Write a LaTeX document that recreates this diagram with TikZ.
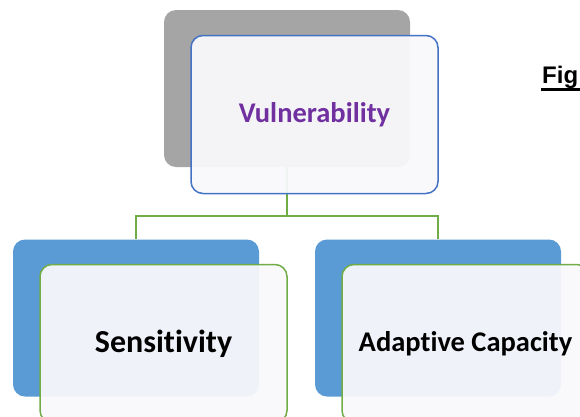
\documentclass[tikz,border=0pt]{standalone}
\usepackage{fontspec}
\setmainfont{Carlito}[Ligatures=NoCommon]
\newfontfamily\figfont{Liberation Sans}
\definecolor{backgray}{RGB}{165,165,165}
\definecolor{backblue}{RGB}{91,155,213}
\definecolor{edgeblue}{RGB}{68,114,196}
\definecolor{edgegreen}{RGB}{112,173,71}
\definecolor{frontfill}{RGB}{249,249,252}
\definecolor{labelpurple}{RGB}{112,48,160}
\tikzset{
  backbox/.style={rectangle, rounded corners=12pt, minimum width=246pt,
    minimum height=157pt, inner sep=0pt},
  frontbox/.style={rectangle, rounded corners=12pt, minimum width=247pt,
    minimum height=158pt, inner sep=0pt, line width=1.5pt,
    fill=frontfill, fill opacity=0.94, text opacity=1},
  link/.style={draw=edgegreen, line width=1.5pt}
}
\begin{document}
\begin{tikzpicture}[x=1pt, y=-1pt]
  \useasboundingbox (0,0) rectangle (580,416);
  \clip (0,0) rectangle (580,416);
  \fill[white] (0,0) rectangle (580,416);

  % back panels
  \node[backbox, fill=backgray] (vulB) at (287,88.5) {};
  \node[backbox, fill=backblue] (sensB) at (136,318) {};
  \node[backbox, fill=backblue] (adapB) at (438,318) {};

  % tree connectors
  \draw[link] (vulB.south) -- ++(0,49) -| (sensB.north);
  \draw[link] (vulB.south) -- ++(0,49) -| (adapB.north);

  % front panels with labels
  \node[frontbox, draw=edgeblue, text=labelpurple,
        font=\bfseries\fontsize{28.5}{34}\selectfont]
        (vul) at (314.5,114.5) {Vulnerability};
  \node[frontbox, draw=edgegreen,
        font=\bfseries\fontsize{32}{38}\selectfont]
        (sens) at (163.5,343.5) {Sensitivity};
  \node[frontbox, draw=edgegreen,
        font=\bfseries\fontsize{28.5}{34}\selectfont]
        (adap) at (465.5,343.5) {Adaptive Capacity};

  % caption heading
  \node[anchor=base west, inner sep=0pt,
        font=\figfont\bfseries\fontsize{24}{28}\selectfont]
        (fig) at (542,83.3) {Fig};
  \draw[line width=2.8pt] ([xshift=-1pt,yshift=-6.4pt]fig.base west) -- ([xshift=20pt,yshift=-6.4pt]fig.base east);
\end{tikzpicture}
\end{document}
